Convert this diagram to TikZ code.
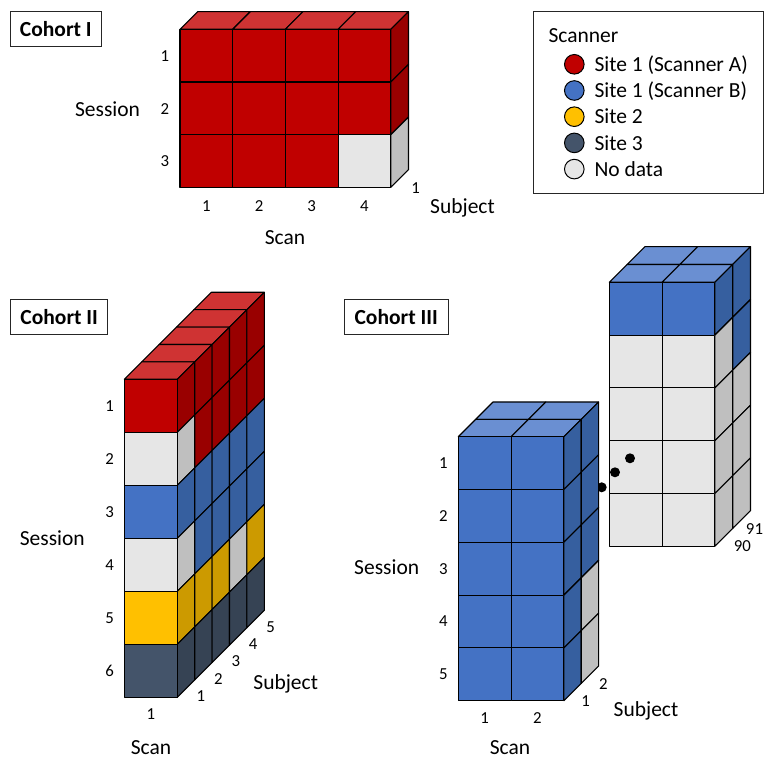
\documentclass[tikz,border=0pt]{standalone}
\usepackage{fontspec}
\setmainfont{Carlito}
\definecolor{rF}{HTML}{C00000}\definecolor{rT}{HTML}{CF3333}\definecolor{rS}{HTML}{990000}
\definecolor{bF}{HTML}{4472C4}\definecolor{bT}{HTML}{6A8FD2}\definecolor{bS}{HTML}{365F9F}
\definecolor{yF}{HTML}{FFC000}\definecolor{yS}{HTML}{CC9A00}
\definecolor{nF}{HTML}{44546A}\definecolor{nS}{HTML}{364354}
\definecolor{gF}{HTML}{E6E6E6}\definecolor{gS}{HTML}{BFBFBF}
\tikzset{
  cube/.style={draw=black, line width=1.1pt, line join=round},
  lab/.style={font=\fontsize{21.5}{24}\selectfont, inner sep=0pt, anchor=base},
  num/.style={font=\fontsize{16.8}{19}\selectfont, inner sep=0pt, anchor=base},
  cbox/.style={draw=black!85, line width=1pt, font=\bfseries\fontsize{21.5}{24}\selectfont, inner sep=0pt, minimum height=35pt},
  legdot/.style={circle, draw=black, line width=1pt, minimum size=19.6pt, inner sep=0pt},
  legtxt/.style={font=\fontsize{21.5}{24}\selectfont, inner sep=0pt, anchor=base west}
}
% front cell: x, y (top-left), colour
\newcommand\fcell[3]{\filldraw[fill=#3,cube] ({#1},{#2}) rectangle ++(\cc,\cc);}
% side cell: X right edge, Y top of session, k depth index, colour
\newcommand\scell[4]{\filldraw[fill=#4,cube] ({#1+#3*\dd},{#2-#3*\dd}) -- ++(\dd,-\dd) -- ++(0,\cc) -- ++(-\dd,\dd) -- cycle;}
% top cell: x left of scan, Y top, k depth index, colour
\newcommand\tcell[4]{\filldraw[fill=#4,cube] ({#1+#3*\dd},{#2-#3*\dd}) -- ++(\cc,0) -- ++(\dd,-\dd) -- ++(-\cc,0) -- cycle;}
\begin{document}
\begin{tikzpicture}[x=1pt,y=-1pt]
\useasboundingbox (0,0) rectangle (764,759);

% ---------------- Cohort I ----------------
\node[cbox, minimum width=91.7pt] (c1) at (55.85,29.2) {Cohort I};
\def\cc{52.7}\def\dd{17.7}
\foreach \i in {0,...,3} {\tcell{180+\i*\cc}{29.3}{0}{rT}}
\foreach \j/\c in {0/rS,1/rS,2/gS} {\scell{180+4*\cc}{29.3+\j*\cc}{0}{\c}}
\foreach \i/\j/\c in {0/0/rF,1/0/rF,2/0/rF,3/0/rF,0/1/rF,1/1/rF,2/1/rF,3/1/rF,0/2/rF,1/2/rF,2/2/rF,3/2/gF}
  {\fcell{180+\i*\cc}{29.3+\j*\cc}{\c}}
\foreach \j in {1,2,3} {\node[num] (c1s\j) at (165,{29.3+(\j-0.5)*52.7+5.8}) {\j};}
\foreach \i in {1,...,4} {\node[num] (c1c\i) at ({180+(\i-0.5)*52.7},211.7) {\i};}
\node[num] (c1k1) at (415.7,193.3) {1};
\node[lab] (c1sess) at (107.5,116.7) {Session};
\node[lab] (c1subj) at (462.5,213.3) {Subject};
\node[lab] (c1scan) at (285,245) {Scan};

% ---------------- Legend ----------------
\draw[line width=1pt, draw=black!85] (533.3,11.7) rectangle (763.3,193.3);
\node[legtxt] (lgt) at (548.3,42.7) {Scanner};
\foreach \n/\c/\t in {0/rF/{Site 1 (Scanner A)},1/bF/{Site 1 (Scanner B)},2/yF/{Site 2},3/nF/{Site 3},4/gF/{No data}} {
  \node[legdot, fill=\c] (ld\n) at (574.3,{64.3+\n*26.2}) {};
  \node[legtxt] (lt\n) at (594.3,{71.5+\n*26.2}) {\t};
}

% ---------------- Cohort II ----------------
\node[cbox, minimum width=97pt] (c2) at (59.2,316.8) {Cohort II};
\def\cc{53}\def\dd{17.4}
\foreach \k in {4,3,2,1,0} {\tcell{124.3}{379.3}{\k}{rT}}
\foreach \j/\c in {0/rS,1/gS,2/bS,3/gS,4/yS,5/nS} {\scell{177.3}{379.3+\j*\cc}{0}{\c}}
\foreach \j/\c in {0/rS,1/rS,2/bS,3/bS,4/yS,5/nS} {\scell{177.3}{379.3+\j*\cc}{1}{\c}}
\foreach \j/\c in {0/rS,1/rS,2/bS,3/bS,4/yS,5/nS} {\scell{177.3}{379.3+\j*\cc}{2}{\c}}
\foreach \j/\c in {0/rS,1/rS,2/bS,3/bS,4/gS,5/nS} {\scell{177.3}{379.3+\j*\cc}{3}{\c}}
\foreach \j/\c in {0/rS,1/rS,2/bS,3/bS,4/yS,5/nS} {\scell{177.3}{379.3+\j*\cc}{4}{\c}}
\foreach \j/\c in {0/rF,1/gF,2/bF,3/gF,4/yF,5/nF} {\fcell{124.3}{379.3+\j*\cc}{\c}}
\foreach \j in {1,...,6} {\node[num] (c2s\j) at (109.7,{379.3+(\j-0.5)*53+5.7}) {\j};}
\foreach \k in {1,...,5} {\node[num] (c2k\k) at ({201+(\k-1)*17.4},{701.7-(\k-1)*17.4}) {\k};}
\node[num] (c2c1) at (151,719.3) {1};
\node[lab] (c2sess) at (52.3,546) {Session};
\node[lab] (c2subj) at (285.7,689.3) {Subject};
\node[lab] (c2scan) at (151,754.5) {Scan};

% ---------------- Cohort III ----------------
\node[cbox, minimum width=104.3pt] (c3) at (396.2,316.8) {Cohort III};
% back block (subjects 90, 91)
\def\cc{52.8}\def\dd{17.8}
\foreach \k in {1,0} {\foreach \i in {0,1} {\tcell{609.3+\i*\cc}{282.3}{\k}{bT}}}
\foreach \j/\c in {0/bS,1/gS,2/gS,3/gS,4/gS} {\scell{714.9}{282.3+\j*\cc}{0}{\c}}
\foreach \j/\c in {0/bS,1/bS,2/gS,3/gS,4/gS} {\scell{714.9}{282.3+\j*\cc}{1}{\c}}
\foreach \j/\c in {0/bF,1/gF,2/gF,3/gF,4/gF} {\foreach \i in {0,1} {\fcell{609.3+\i*\cc}{282.3+\j*\cc}{\c}}}
\node[num] (c3k90) at (742.3,551.7) {90};
\node[num] (c3k91) at (754.5,534) {91};
% dots
\fill (601.7,487.3) circle (5);
\fill (615,472.3) circle (5);
\fill (630,458.3) circle (5);
% front block (subjects 1, 2)
\def\cc{52.8}\def\dd{17.35}
\foreach \k in {1,0} {\foreach \i in {0,1} {\tcell{458.3+\i*\cc}{436.7}{\k}{bT}}}
\foreach \j/\c in {0/bS,1/bS,2/bS,3/bS,4/bS} {\scell{563.9}{436.7+\j*\cc}{0}{\c}}
\foreach \j/\c in {0/bS,1/bS,2/bS,3/gS,4/gS} {\scell{563.9}{436.7+\j*\cc}{1}{\c}}
\foreach \j in {0,...,4} {\foreach \i in {0,1} {\fcell{458.3+\i*\cc}{436.7+\j*\cc}{bF}}}
\foreach \j in {1,...,5} {\node[num] (c3s\j) at (443.3,{436.7+(\j-0.5)*52.8+5.3}) {\j};}
\foreach \i in {1,2} {\node[num] (c3c\i) at ({458.3+(\i-0.5)*52.8},723.3) {\i};}
\node[num] (c3k1) at (585.7,706.7) {1};
\node[num] (c3k2) at (603.3,689.3) {2};
\node[lab] (c3sess) at (386.7,574.3) {Session};
\node[lab] (c3subj) at (646,716.7) {Subject};
\node[lab] (c3scan) at (510,754.5) {Scan};
\end{tikzpicture}
\end{document}
